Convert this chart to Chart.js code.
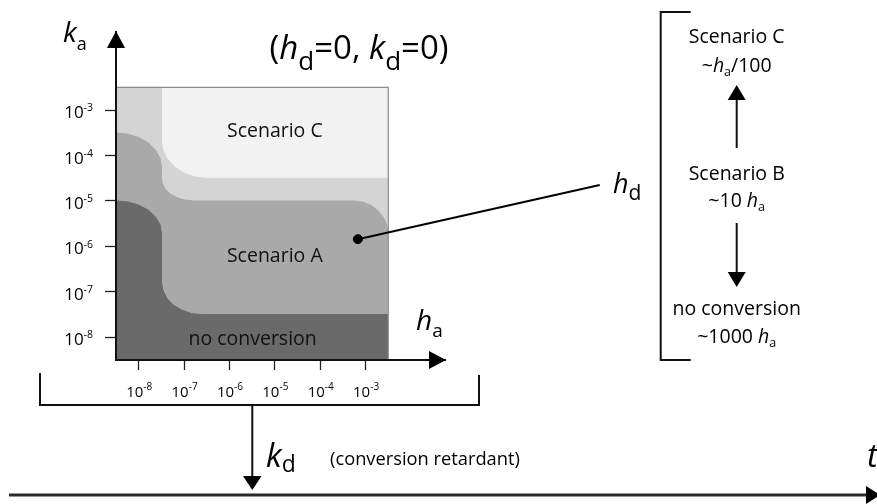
<!DOCTYPE html>
<html>
<head>
<meta charset="utf-8">
<script src="https://cdn.jsdelivr.net/npm/chart.js@4.4.1/dist/chart.umd.min.js"></script>
<style>
  body { margin: 0; background: #fff; }
  canvas { display: block; }
</style>
</head>
<body>
<canvas id="chart" width="877" height="504"></canvas>
<script>
// tick exponents, log10(h_a) on x and log10(k_a) on y
const xTicks = [-8, -7, -6, -5, -4, -3];
const yTicks = [-8, -7, -6, -5, -4, -3];

// region boundaries as [log h_a, log k_a]
const scenarioCTop = [[-8.5, -2.5], [-2.5, -2.5]];
const scenarioBTop = [
  [-8.5, -2.5], [-7.5, -2.5], [-7.5, -3.66], [-7.47, -3.88], [-7.37, -4.08],
  [-7.21, -4.25], [-7.0, -4.39], [-6.76, -4.47], [-6.5, -4.5], [-2.5, -4.5]
];
const scenarioATop = [
  [-8.5, -3.5], [-8.24, -3.53], [-8.0, -3.6], [-7.79, -3.72], [-7.63, -3.88],
  [-7.53, -4.06], [-7.5, -4.25], [-7.5, -4.47], [-7.48, -4.61], [-7.41, -4.74],
  [-7.3, -4.85], [-7.15, -4.93], [-6.98, -4.98], [-6.8, -5.0], [-3.24, -5.0],
  [-3.05, -5.03], [-2.87, -5.1], [-2.72, -5.22], [-2.6, -5.37], [-2.53, -5.55], [-2.5, -5.74]
];
const noConversionTop = [
  [-8.5, -5.0], [-8.24, -5.02], [-8.0, -5.09], [-7.79, -5.2], [-7.63, -5.35],
  [-7.53, -5.52], [-7.5, -5.7], [-7.5, -6.77], [-7.47, -6.96], [-7.38, -7.14],
  [-7.24, -7.29], [-7.05, -7.4], [-6.83, -7.48], [-6.6, -7.5], [-2.5, -7.5]
];
const frameEdge = [[-8.5, -2.5], [-2.5, -2.5], [-2.5, -8.5]];
const hdPoint = [[-3.17, -5.84]];
const hdLeader = [[-3.17, -5.84], [2.16, -4.65]];

const pts = a => a.map(([x, y]) => ({ x, y }));

const FONT = '"Open Sans", "DejaVu Sans", sans-serif';
function fnt(p) {
  return (p[2] === 'i' ? 'italic ' : '') + p[1] + 'px ' + FONT;
}
// draws a row of text pieces: [text, size, style, dy]
function runs(ctx, parts, x, base, align) {
  let w = 0;
  parts.forEach(p => { ctx.font = fnt(p); w += ctx.measureText(p[0]).width; });
  let cx = align === 'center' ? x - w / 2 : align === 'right' ? x - w : x;
  parts.forEach(p => {
    ctx.font = fnt(p);
    ctx.fillText(p[0], cx, base + (p[3] || 0));
    cx += ctx.measureText(p[0]).width;
  });
}
function tri(ctx, p) {
  ctx.beginPath();
  ctx.moveTo(p[0][0], p[0][1]);
  ctx.lineTo(p[1][0], p[1][1]);
  ctx.lineTo(p[2][0], p[2][1]);
  ctx.closePath();
  ctx.fill();
}
function line(ctx, p, w) {
  ctx.lineWidth = w;
  ctx.beginPath();
  ctx.moveTo(p[0][0], p[0][1]);
  for (let i = 1; i < p.length; i++) ctx.lineTo(p[i][0], p[i][1]);
  ctx.stroke();
}

const annotate = {
  id: 'annotate',
  afterDraw(chart) {
    const ctx = chart.ctx;
    const xs = chart.scales.x, ys = chart.scales.y, area = chart.chartArea;
    ctx.save();
    ctx.fillStyle = '#000';
    ctx.strokeStyle = '#111';
    ctx.textAlign = 'left';
    ctx.textBaseline = 'alphabetic';

    // axis arrowheads
    tri(ctx, [[area.left, area.top - 1], [area.left - 9, area.top + 16], [area.left + 9, area.top + 16]]);
    tri(ctx, [[area.right + 1, area.bottom], [area.right - 16, area.bottom - 9], [area.right - 16, area.bottom + 9]]);

    // tick labels 10^n
    xTicks.forEach(e => runs(ctx, [['10', 15], ['-' + (-e), 10, '', -6.7]],
      xs.getPixelForValue(e) + 0.5, area.bottom + 37, 'center'));
    yTicks.forEach(e => runs(ctx, [['10', 17], ['-' + (-e), 10.5, '', -6.8]],
      area.left - 23, ys.getPixelForValue(e) + 8, 'right'));

    // axis names and title
    runs(ctx, [['k', 28, 'i'], ['a', 18, '', 8]], 63, 42, 'left');
    runs(ctx, [['h', 28, 'i'], ['a', 19, '', 7]], 416, 330, 'left');
    runs(ctx, [['(', 33], ['h', 33, 'i'], ['d', 26, '', 11], ['=0, ', 33],
      ['k', 33, 'i'], ['d', 26, '', 11], ['=0)', 33]], 359, 59, 'center');

    // region labels
    ctx.fillStyle = '#111';
    runs(ctx, [['Scenario C', 19.5]], xs.getPixelForValue(-5), ys.getPixelForValue(-3.59), 'center');
    runs(ctx, [['Scenario A', 19.5]], xs.getPixelForValue(-5), ys.getPixelForValue(-6.34), 'center');
    runs(ctx, [['no conversion', 19.5]], xs.getPixelForValue(-5.49), ys.getPixelForValue(-8.17), 'center');

    // h_d label and bracket with scenarios
    ctx.fillStyle = '#000';
    runs(ctx, [['h', 27, 'i'], ['d', 21, '', 7]], 613, 193, 'left');
    line(ctx, [[690.7, 12], [660.7, 12], [660.7, 360], [690.7, 360]], 2);
    const cx = 736.7;
    runs(ctx, [['Scenario C', 19.5]], cx, 43, 'center');
    runs(ctx, [['~', 19.5], ['h', 19.5, 'i'], ['a', 12.5, '', 4], ['/100', 19.5]], cx, 71.7, 'center');
    line(ctx, [[cx, 148], [cx, 99]], 2);
    tri(ctx, [[cx - 9, 100], [cx + 9, 100], [cx, 85]]);
    runs(ctx, [['Scenario B', 19.5]], cx, 180, 'center');
    runs(ctx, [['~10 ', 19.5], ['h', 19.5, 'i'], ['a', 12.5, '', 4]], cx, 206.7, 'center');
    line(ctx, [[cx, 223], [cx, 273]], 2);
    tri(ctx, [[cx - 9, 272], [cx + 9, 272], [cx, 287]]);
    runs(ctx, [['no conversion', 19.5]], cx, 315, 'center');
    runs(ctx, [['~1000 ', 19.5], ['h', 19.5, 'i'], ['a', 12.5, '', 4]], cx, 343, 'center');

    // bottom bracket, k_d arrow and time axis
    line(ctx, [[40, 373], [40, 405], [479, 405], [479, 375]], 2);
    line(ctx, [[252.3, 405], [252.3, 478]], 2);
    tri(ctx, [[243, 476], [261.6, 476], [252.3, 490]]);
    runs(ctx, [['k', 32, 'i'], ['d', 23, '', 5]], 266, 467, 'left');
    runs(ctx, [['(conversion retardant)', 18.3]], 330, 465, 'left');
    ctx.strokeStyle = '#2a2a2a';
    line(ctx, [[9, 495], [867, 495]], 3);
    tri(ctx, [[866, 486], [866, 504], [880, 495]]);
    runs(ctx, [['t', 33, 'i']], 878, 467, 'right');
    ctx.restore();
  }
};

const fillSet = (data, color) => ({
  data: pts(data), showLine: true, fill: 'start', pointRadius: 0,
  backgroundColor: color, borderColor: color, borderWidth: 1, tension: 0
});

new Chart(document.getElementById('chart'), {
  type: 'scatter',
  data: {
    datasets: [
      { data: pts(hdLeader), showLine: true, pointRadius: 0, borderColor: '#000', borderWidth: 2, clip: false, fill: false },
      { data: pts(hdPoint), pointRadius: 4.5, pointBackgroundColor: '#000', pointBorderColor: '#000' },
      { data: pts(frameEdge), showLine: true, pointRadius: 0, borderColor: '#8c8c8c', borderWidth: 1.2, fill: false },
      fillSet(noConversionTop, '#6a6a6a'),
      fillSet(scenarioATop, '#a9a9a9'),
      fillSet(scenarioBTop, '#d4d4d4'),
      fillSet(scenarioCTop, '#f2f2f2')
    ]
  },
  options: {
    responsive: false,
    animation: false,
    events: [],
    layout: { padding: { left: 76, top: 32, right: 432, bottom: 104 } },
    plugins: { legend: { display: false }, tooltip: { enabled: false } },
    scales: {
      x: {
        type: 'linear', min: -8.5, max: -1.25,
        afterBuildTicks: s => { s.ticks = xTicks.map(v => ({ value: v })); },
        afterFit: s => { s.height = 40; },
        ticks: { display: false },
        grid: { drawOnChartArea: false, drawTicks: true, tickLength: 10, tickColor: '#222', tickWidth: 1.3 },
        border: { display: true, color: '#111', width: 2, z: 1 }
      },
      y: {
        type: 'linear', min: -8.5, max: -1.28,
        afterBuildTicks: s => { s.ticks = yTicks.map(v => ({ value: v })); },
        afterFit: s => { s.width = 40; },
        ticks: { display: false },
        grid: { drawOnChartArea: false, drawTicks: true, tickLength: 11, tickColor: '#222', tickWidth: 1.3 },
        border: { display: true, color: '#111', width: 2, z: 1 }
      }
    }
  },
  plugins: [annotate]
});
</script>
</body>
</html>
